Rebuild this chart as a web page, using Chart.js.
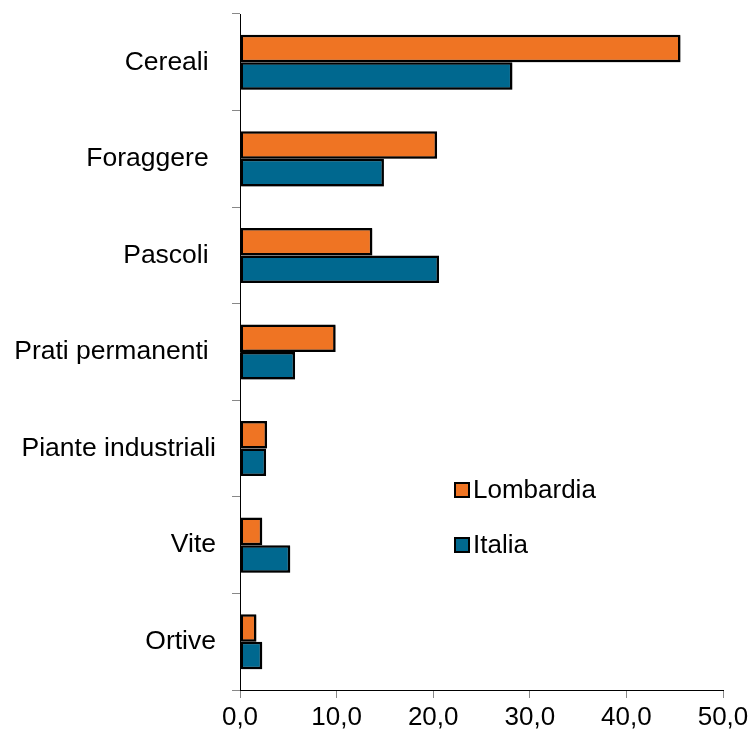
<!DOCTYPE html>
<html lang="it">
<head>
<meta charset="utf-8">
<title>Superficie per coltura</title>
<script src="https://cdn.jsdelivr.net/npm/chart.js@4/dist/chart.umd.min.js"></script>
<style>
  html, body { margin: 0; padding: 0; background: #fff; }
  #wrap { position: relative; width: 751px; height: 735px; }
</style>
</head>
<body>
<div id="wrap"><canvas id="chartColture"></canvas></div>
<script>
// categorie (alcune con spazio finale come nell'originale)
const categories = ['Cereali ', 'Foraggere ', 'Pascoli ', 'Prati permanenti ', 'Piante industriali', 'Vite', 'Ortive'];
const lombardia = [45.6, 20.4, 13.7, 9.9, 2.8, 2.3, 1.7];
const italia = [28.2, 14.9, 20.6, 5.7, 2.7, 5.2, 2.3];
const xTickValues = [0, 10, 20, 30, 40, 50];

const ORANGE = '#EF7423';
const BLUE = '#00688F';
const FONT = 'Liberation Sans, Arial, Helvetica, sans-serif';

const fmt = (v) => Number(v).toFixed(1).replace('.', ',');

// ombra leggera sotto le barre
const barShadow = {
  id: 'barShadow',
  beforeDatasetsDraw(chart) {
    const { ctx } = chart;
    ctx.save();
    ctx.shadowColor = 'rgba(0,0,0,0.3)';
    ctx.shadowBlur = 1;
    ctx.shadowOffsetX = 1;
    ctx.shadowOffsetY = 1;
  },
  afterDatasetsDraw(chart) {
    chart.ctx.restore();
  },
};

// legenda disegnata dentro l'area del grafico
const insideLegend = {
  id: 'insideLegend',
  afterDraw(chart) {
    const { ctx } = chart;
    const items = chart.data.datasets.map((ds) => ({ label: ds.label, color: ds.backgroundColor }));
    const x = 455;
    const ys = [490, 545];
    ctx.save();
    ctx.font = `26px ${FONT}`;
    ctx.textBaseline = 'middle';
    ctx.textAlign = 'left';
    items.forEach((item, i) => {
      const y = ys[i];
      ctx.fillStyle = item.color;
      ctx.fillRect(x, y - 7, 14, 14);
      ctx.lineWidth = 2;
      ctx.strokeStyle = '#000';
      ctx.strokeRect(x, y - 7, 14, 14);
      ctx.fillStyle = '#000';
      ctx.fillText(item.label, x + 18, y + 1);
    });
    ctx.restore();
  },
};

const ctx = document.getElementById('chartColture').getContext('2d');
new Chart(ctx, {
  type: 'bar',
  data: {
    labels: categories,
    datasets: [
      {
        label: 'Lombardia',
        data: lombardia,
        backgroundColor: ORANGE,
        borderColor: '#000',
        borderWidth: 2.5,
        borderSkipped: false,
      },
      {
        label: 'Italia',
        data: italia,
        backgroundColor: BLUE,
        borderColor: '#000',
        borderWidth: 2.5,
        borderSkipped: false,
      },
    ],
  },
  options: {
    responsive: true,
    maintainAspectRatio: false,
    animation: false,
    indexAxis: 'y',
    layout: { padding: { top: 14, right: 0, left: 0, bottom: 0 } },
    datasets: {
      bar: { categoryPercentage: 0.57, barPercentage: 1.0 },
    },
    scales: {
      x: {
        min: 0,
        max: 50,
        afterBuildTicks(scale) {
          scale.ticks = xTickValues.map((v) => ({ value: v }));
        },
        afterFit(scale) {
          scale.height = 45;
          scale.paddingRight = 28;
        },
        grid: {
          drawOnChartArea: false,
          drawTicks: true,
          tickLength: 8,
          tickColor: '#888',
        },
        border: { display: true, color: '#000', width: 1 },
        ticks: {
          color: '#000',
          padding: 4,
          maxRotation: 0,
          font: { family: FONT, size: 26 },
          callback: (value) => fmt(value),
        },
      },
      y: {
        afterFit(scale) {
          scale.width = 240;
          scale.paddingTop = 0;
          scale.paddingBottom = 0;
        },
        grid: {
          drawOnChartArea: false,
          drawTicks: true,
          offset: true,
          tickLength: 8,
          tickColor: '#888',
        },
        border: { display: true, color: '#000', width: 1 },
        ticks: {
          color: '#000',
          padding: 16,
          font: { family: FONT, size: 26.5 },
        },
      },
    },
    plugins: {
      legend: { display: false },
      tooltip: { enabled: false },
    },
  },
  plugins: [barShadow, insideLegend],
});
</script>
</body>
</html>
